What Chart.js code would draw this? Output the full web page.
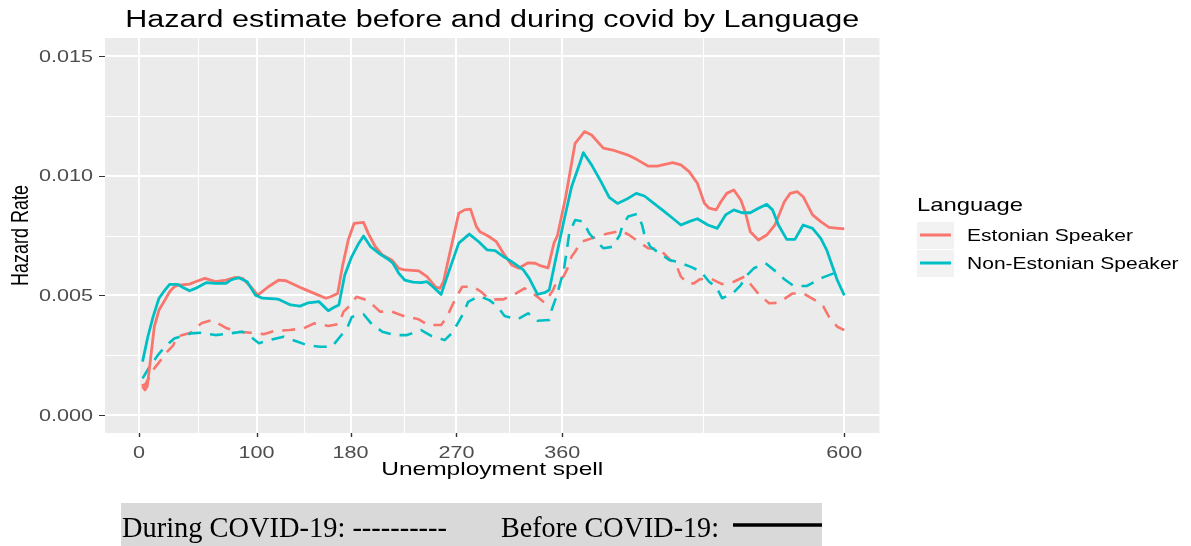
<!DOCTYPE html>
<html>
<head>
<meta charset="utf-8">
<script src="https://cdn.jsdelivr.net/npm/chart.js@4.4.1/dist/chart.umd.min.js"></script>
<style>
  html, body { margin: 0; padding: 0; background: #ffffff; }
  canvas { display: block; }
</style>
</head>
<body>
<canvas id="hazard" width="1191" height="546"></canvas>
<script>
// Axis breaks and labels
const xBreaks = [0, 100, 180, 270, 360, 600];
const xMinorBreaks = [50, 140, 225, 315, 480];
const yBreaks = [0, 0.005, 0.010, 0.015];
const yBreakLabels = ['0.000', '0.005', '0.010', '0.015'];
const yMinorBreaks = [0.0025, 0.0075, 0.0125];

const languages = ['Estonian Speaker', 'Non-Estonian Speaker'];
const languageColors = ['#F8766D', '#00BFC4'];

// Hazard estimates: [unemployment spell (days), hazard rate]
const estonianBefore = [
  [3,0.00130],[5,0.00105],[7,0.00120],[9,0.00200],[13,0.00369],[17,0.00439],[22,0.00480],[26,0.00515],
  [30,0.00536],[34,0.00543],[43,0.00547],[48,0.00557],[56,0.00571],[65,0.00557],[74,0.00564],[82,0.00575],
  [88,0.00571],[95,0.00536],[101,0.00501],[110,0.00536],[119,0.00564],[125,0.00561],[139,0.00529],[150,0.00506],
  [159,0.00488],[163,0.00494],[169,0.00508],[173,0.00620],[178,0.00731],[183,0.00801],[191,0.00805],[195,0.00759],
  [201,0.00703],[207,0.00669],[215,0.00648],[221,0.00613],[226,0.00606],[235,0.00603],[238,0.00602],[245,0.00578],
  [252,0.00536],[256,0.00529],[259,0.00557],[265,0.00690],[272,0.00843],[277,0.00857],[282,0.00860],[287,0.00787],
  [290,0.00766],[297,0.00748],[304,0.00724],[310,0.00676],[317,0.00627],[323,0.00613],[331,0.00636],[337,0.00634],
  [342,0.00623],[348,0.00615],[353,0.00718],[356,0.00750],[363,0.00912],[371,0.01135],[379,0.01184],[385,0.01170],
  [395,0.01115],[403,0.01107],[416,0.01086],[424,0.01066],[433,0.01040],[441,0.01040],[454,0.01054],[461,0.01045],
  [468,0.01017],[475,0.00968],[481,0.00885],[485,0.00864],[491,0.00857],[495,0.00891],[500,0.00926],[506,0.00940],
  [512,0.00898],[516,0.00843],[520,0.00766],[527,0.00731],[534,0.00752],[541,0.00794],[549,0.00891],[554,0.00926],
  [560,0.00933],[565,0.00912],[573,0.00836],[580,0.00808],[587,0.00784],[595,0.00780],[600,0.00778]
];

const nonEstonianBefore = [
  [3,0.00223],[7.5,0.00327],[12,0.00411],[17,0.00488],[22,0.00522],[26,0.00546],[33,0.00546],[37,0.00534],
  [43,0.00519],[48,0.00529],[57,0.00553],[65,0.00550],[74,0.00550],[78,0.00564],[85,0.00574],[92,0.00557],
  [99,0.00501],[105,0.00488],[116,0.00485],[119,0.00483],[129,0.00460],[137,0.00455],[144,0.00469],[153,0.00474],
  [157,0.00455],[161,0.00436],[166,0.00450],[170,0.00460],[175,0.00585],[181,0.00662],[187,0.00718],[191,0.00748],
  [197,0.00703],[204,0.00676],[212,0.00651],[216,0.00634],[221,0.00592],[226,0.00564],[233,0.00555],[240,0.00553],
  [245,0.00557],[250,0.00536],[257,0.00504],[265,0.00620],[272,0.00718],[281,0.00756],[289,0.00724],[296,0.00690],
  [303,0.00687],[310,0.00662],[317,0.00641],[327,0.00606],[332,0.00571],[339,0.00504],[345,0.00511],[349,0.00522],
  [354,0.00640],[361,0.00801],[368,0.00954],[375,0.01052],[378,0.01096],[385,0.01045],[393,0.00975],[400,0.00909],
  [407,0.00884],[416,0.00905],[423,0.00926],[430,0.00915],[438,0.00884],[447,0.00850],[454,0.00822],[461,0.00794],
  [468,0.00808],[475,0.00820],[484,0.00794],[492,0.00780],[499,0.00836],[506,0.00857],[513,0.00845],[520,0.00845],
  [527,0.00864],[534,0.00880],[539,0.00857],[544,0.00794],[551,0.00734],[558,0.00734],[565,0.00794],[573,0.00780],
  [580,0.00738],[585,0.00690],[589,0.00634],[594,0.00564],[600,0.00500]
];

const estonianDuring = [
  [3,0.00110],[8,0.00150],[13,0.00195],[17,0.00220],[24,0.00265],[29,0.00290],[32,0.00327],[44,0.00344],
  [53,0.00383],[62,0.00397],[74,0.00364],[85,0.00348],[95,0.00344],[106,0.00338],[116,0.00352],[128,0.00355],
  [140,0.00362],[149,0.00383],[161,0.00372],[170,0.00380],[174,0.00432],[180,0.00460],[185,0.00494],[195,0.00478],
  [205,0.00432],[215,0.00432],[225,0.00414],[238,0.00400],[246,0.00376],[257,0.00376],[262,0.00410],[266,0.00453],
  [270,0.00494],[275,0.00536],[284,0.00536],[291,0.00515],[298,0.00483],[310,0.00483],[320,0.00506],[328,0.00529],
  [337,0.00501],[345,0.00469],[352,0.00520],[356,0.00564],[361,0.00578],[364,0.00606],[368,0.00662],[371,0.00682],
  [376,0.00724],[385,0.00738],[397,0.00756],[410,0.00770],[417,0.00752],[423,0.00731],[433,0.00697],[443,0.00692],
  [452,0.00648],[457,0.00627],[461,0.00578],[467,0.00550],[472,0.00550],[477,0.00567],[486,0.00571],[496,0.00547],
  [506,0.00557],[515,0.00578],[522,0.00536],[527,0.00506],[536,0.00467],[544,0.00469],[556,0.00508],[565,0.00508],
  [575,0.00480],[582,0.00455],[587,0.00410],[594,0.00369],[600,0.00355]
];

const nonEstonianDuring = [
  [3,0.00153],[9,0.00202],[16,0.00250],[22,0.00285],[30,0.00320],[44,0.00341],[53,0.00344],[65,0.00334],
  [77,0.00341],[88,0.00348],[95,0.00327],[102,0.00300],[113,0.00316],[123,0.00327],[135,0.00306],[143,0.00292],
  [154,0.00285],[164,0.00285],[171,0.00327],[177,0.00362],[181,0.00410],[191,0.00421],[198,0.00380],[207,0.00348],
  [218,0.00334],[228,0.00334],[240,0.00355],[249,0.00330],[260,0.00313],[266,0.00341],[272,0.00390],[276,0.00425],
  [280,0.00473],[289,0.00497],[298,0.00480],[305,0.00453],[311,0.00414],[322,0.00400],[331,0.00425],[339,0.00394],
  [349,0.00397],[351,0.00439],[354,0.00480],[356,0.00508],[359,0.00564],[361,0.00592],[365,0.00724],[366,0.00759],
  [371,0.00815],[378,0.00808],[383,0.00759],[388,0.00731],[395,0.00697],[403,0.00703],[409,0.00752],[411,0.00787],
  [416,0.00829],[424,0.00840],[428,0.00794],[430,0.00752],[435,0.00703],[441,0.00682],[451,0.00648],[457,0.00641],
  [469,0.00620],[478,0.00599],[485,0.00557],[491,0.00536],[496,0.00488],[505,0.00508],[512,0.00543],[516,0.00578],
  [523,0.00613],[533,0.00634],[543,0.00595],[549,0.00567],[557,0.00539],[568,0.00539],[582,0.00575],[591,0.00592],
  [596,0.00600]
];

const SANS = '"Liberation Sans", Arial, sans-serif';
const SERIF = '"Liberation Serif", "DejaVu Serif", serif';

const toPoints = rows => rows.map(([x, y]) => ({ x, y }));

// Draw text horizontally squeezed/stretched to a given width (or scale factor)
function drawText(ctx, str, x, y, opt) {
  ctx.save();
  ctx.font = opt.font;
  ctx.fillStyle = opt.color || '#000';
  ctx.textBaseline = opt.baseline || 'alphabetic';
  const w = ctx.measureText(str).width;
  const sx = opt.width ? opt.width / w : (opt.sx || 1);
  ctx.translate(x, y);
  ctx.scale(sx, 1);
  if (opt.rotate) {
    ctx.rotate(opt.rotate);
    ctx.textAlign = opt.align || 'center';
  } else {
    ctx.textAlign = opt.align || 'left';
  }
  ctx.fillText(str, 0, 0);
  ctx.restore();
}

function stretchFor(ctx, font, sample, target) {
  ctx.save();
  ctx.font = font;
  const w = ctx.measureText(sample).width;
  ctx.restore();
  return target / w;
}

const ggTheme = {
  id: 'ggTheme',
  beforeDraw(chart) {
    const { ctx, chartArea: a, scales: { x, y } } = chart;
    ctx.save();
    ctx.fillStyle = '#ffffff';
    ctx.fillRect(0, 0, chart.width, chart.height);
    // panel
    ctx.fillStyle = '#EBEBEB';
    ctx.fillRect(a.left, a.top, a.right - a.left, a.bottom - a.top);
    ctx.strokeStyle = '#ffffff';
    // minor grid
    ctx.lineWidth = 1.1;
    xMinorBreaks.forEach(v => {
      const px = Math.round(x.getPixelForValue(v)) + 0.5;
      ctx.beginPath(); ctx.moveTo(px, a.top); ctx.lineTo(px, a.bottom); ctx.stroke();
    });
    yMinorBreaks.forEach(v => {
      const py = Math.round(y.getPixelForValue(v)) + 0.5;
      ctx.beginPath(); ctx.moveTo(a.left, py); ctx.lineTo(a.right, py); ctx.stroke();
    });
    // major grid
    ctx.lineWidth = 2;
    xBreaks.forEach(v => {
      const px = Math.round(x.getPixelForValue(v));
      ctx.beginPath(); ctx.moveTo(px, a.top); ctx.lineTo(px, a.bottom); ctx.stroke();
    });
    yBreaks.forEach(v => {
      const py = Math.round(y.getPixelForValue(v));
      ctx.beginPath(); ctx.moveTo(a.left, py); ctx.lineTo(a.right, py); ctx.stroke();
    });
    // tick marks
    ctx.strokeStyle = '#333333';
    ctx.lineWidth = 1;
    yBreaks.forEach(v => {
      const py = Math.round(y.getPixelForValue(v)) + 0.5;
      ctx.beginPath(); ctx.moveTo(a.left - 6, py); ctx.lineTo(a.left, py); ctx.stroke();
    });
    ctx.lineWidth = 1.4;
    xBreaks.forEach(v => {
      const px = Math.round(x.getPixelForValue(v)) + 0.5;
      ctx.beginPath(); ctx.moveTo(px, a.bottom); ctx.lineTo(px, a.bottom + 4); ctx.stroke();
    });
    ctx.restore();
  },
  afterDraw(chart) {
    const { ctx, chartArea: a, scales: { x, y } } = chart;
    const midX = (a.left + a.right) / 2;
    const midY = (a.top + a.bottom) / 2;

    // title
    drawText(ctx, 'Hazard estimate before and during covid by Language', midX, 27,
      { font: `23px ${SANS}`, width: 734, align: 'center', color: '#000' });

    // tick labels
    const tickFont = `17px ${SANS}`;
    const tsx = stretchFor(ctx, tickFont, '0.015', 54);
    yBreaks.forEach((v, i) => {
      drawText(ctx, yBreakLabels[i], a.left - 12, y.getPixelForValue(v) + 1,
        { font: tickFont, sx: tsx, align: 'right', baseline: 'middle', color: '#4D4D4D' });
    });
    xBreaks.forEach(v => {
      drawText(ctx, String(v), x.getPixelForValue(v), 458,
        { font: tickFont, sx: tsx, align: 'center', color: '#4D4D4D' });
    });

    // axis titles
    drawText(ctx, 'Unemployment spell', midX, 475,
      { font: `19px ${SANS}`, width: 222, align: 'center', color: '#000' });
    drawText(ctx, 'Hazard Rate', 28, midY,
      { font: `18px ${SANS}`, sx: 1.3, rotate: -Math.PI / 2, align: 'center', color: '#000' });

    // legend
    const legLeft = 917;
    drawText(ctx, 'Language', legLeft, 211,
      { font: `19px ${SANS}`, width: 106, color: '#000' });
    const labFont = `17px ${SANS}`;
    const lsx = stretchFor(ctx, labFont, languages[0], 166);
    languages.forEach((name, i) => {
      const top = 222 + i * 28;
      ctx.save();
      ctx.fillStyle = '#F2F2F2';
      ctx.fillRect(legLeft, top, 37, 27);
      ctx.strokeStyle = languageColors[i];
      ctx.lineWidth = 3;
      ctx.beginPath();
      ctx.moveTo(legLeft + 3, top + 13);
      ctx.lineTo(legLeft + 34, top + 13);
      ctx.stroke();
      ctx.restore();
      drawText(ctx, name, 967, top + 14,
        { font: labFont, sx: lsx, baseline: 'middle', color: '#000' });
    });

    // line-type key below the plot
    ctx.save();
    ctx.fillStyle = '#D9D9D9';
    ctx.fillRect(121, 503, 701, 43);
    ctx.restore();
    drawText(ctx, 'During COVID-19: ----------', 122, 537,
      { font: `30px ${SERIF}`, width: 325, color: '#000' });
    drawText(ctx, 'Before COVID-19:', 501, 537,
      { font: `30px ${SERIF}`, width: 218, color: '#000' });
    ctx.save();
    ctx.strokeStyle = '#000';
    ctx.lineWidth = 3.5;
    ctx.beginPath();
    ctx.moveTo(733, 525);
    ctx.lineTo(822, 525);
    ctx.stroke();
    ctx.restore();
  }
};

const solid = [];
const dashed = [13, 9];

const datasets = [
  { label: languages[1] + ' before', data: toPoints(nonEstonianBefore), borderColor: languageColors[1], borderWidth: 2.8, borderDash: solid },
  { label: languages[0] + ' before', data: toPoints(estonianBefore), borderColor: languageColors[0], borderWidth: 2.8, borderDash: solid },
  { label: languages[1] + ' during', data: toPoints(nonEstonianDuring), borderColor: languageColors[1], borderWidth: 2.6, borderDash: dashed },
  { label: languages[0] + ' during', data: toPoints(estonianDuring), borderColor: languageColors[0], borderWidth: 2.6, borderDash: dashed }
];

new Chart(document.getElementById('hazard').getContext('2d'), {
  type: 'line',
  data: { datasets },
  options: {
    responsive: false,
    animation: false,
    devicePixelRatio: 1,
    layout: { padding: { left: 105, top: 38, right: 311.5, bottom: 113 } },
    plugins: { legend: { display: false }, tooltip: { enabled: false }, title: { display: false } },
    elements: {
      point: { radius: 0, hoverRadius: 0 },
      line: { tension: 0, fill: false, borderCapStyle: 'butt', borderJoinStyle: 'round' }
    },
    scales: {
      x: { type: 'linear', min: -28.95, max: 629.95, display: false },
      y: { type: 'linear', min: -0.00075, max: 0.01575, display: false }
    }
  },
  plugins: [ggTheme]
});
</script>
</body>
</html>
